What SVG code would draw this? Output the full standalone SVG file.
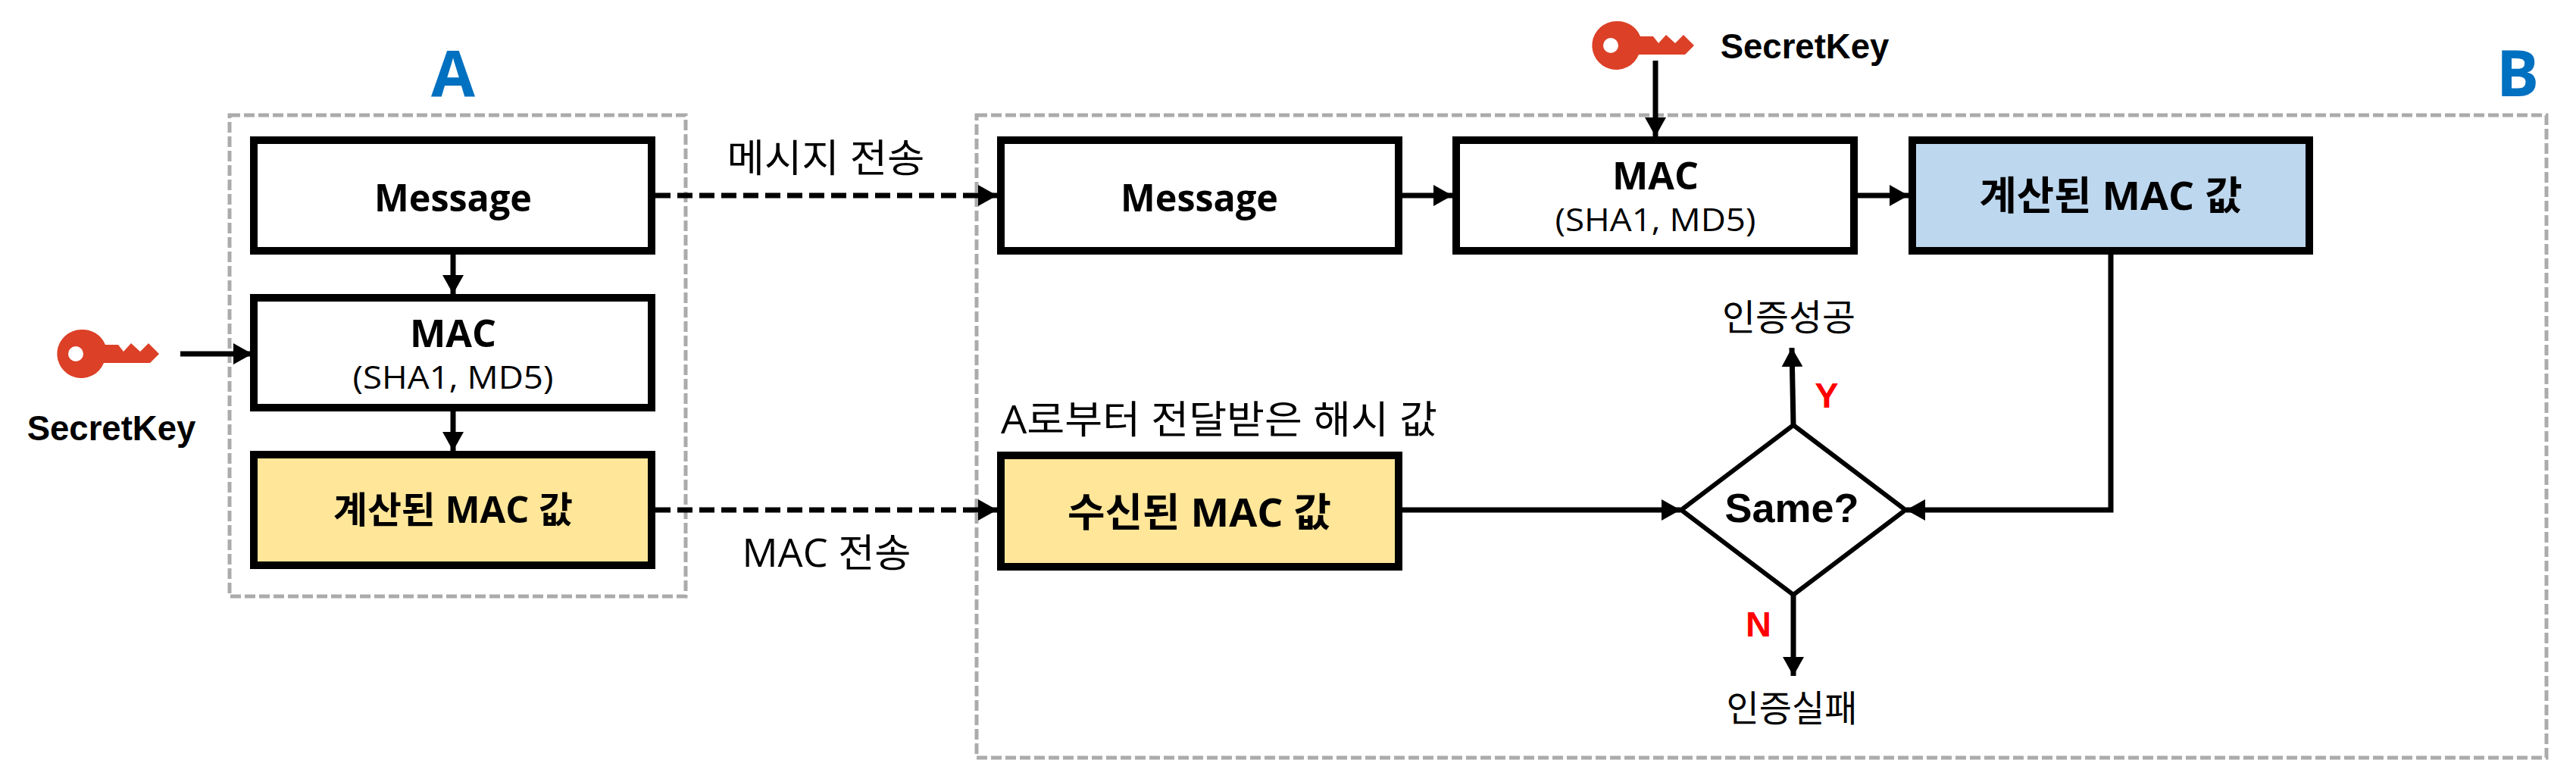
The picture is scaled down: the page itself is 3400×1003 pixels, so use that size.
<svg xmlns="http://www.w3.org/2000/svg" width="3400" height="1003" viewBox="0 0 3400 1003">
<style>
text{font-family:"Open Sans","Noto Sans CJK KR",sans-serif;text-anchor:middle;fill:#000}
.ar{font-family:"Liberation Sans",Arial,sans-serif;font-weight:700}
.t{font-size:50px;font-weight:700}
.k{font-size:52px;font-weight:700}
.s{font-size:42px}
.l{font-size:51px}
.h{font-size:84px;font-weight:700;fill:#0070C0}
.r{fill:#FF0000;font-size:47px}
.box{fill:#fff;stroke:#000;stroke-width:10}
.y{fill:#FFE699}
.bl{fill:#BDD7EE}
.grp{fill:none;stroke:#ABABAB;stroke-width:5;stroke-dasharray:14 5}
.c{fill:none;stroke:#000;stroke-width:7}
.d{stroke-dasharray:20 9}
.key{fill:#DC4027}
</style>
<defs>
<marker id="ah" markerUnits="userSpaceOnUse" markerWidth="26" markerHeight="28" refX="25" refY="14" orient="auto"><path d="M0 0L25 14L0 28Z" fill="#000"/></marker>
<g id="keyshape"><path class="key" fill-rule="evenodd" d="M107 435A32 32 0 0 1 139 455H156L163 464L173 453L185 464L196 453L210 467L198 479H137A32 32 0 1 1 107 435ZM100 457A10 10 0 1 0 100 477A10 10 0 1 0 100 457Z"/></g>
</defs>
<g id="group-a"><rect class="grp" x="303" y="152" width="602" height="635"/><text class="h" x="598" y="127">A</text></g>
<g id="group-b"><rect class="grp" x="1289" y="152" width="2072" height="848"/><text class="h" x="3323" y="127">B</text></g>
<g id="connectors">
<path class="c" d="M598 336V388" marker-end="url(#ah)"/>
<path class="c" d="M598 543V595" marker-end="url(#ah)"/>
<path class="c" d="M238 467H333" marker-end="url(#ah)"/>
<path class="c d" d="M865 258H1316" marker-end="url(#ah)"/>
<path class="c d" d="M865 673H1316" marker-end="url(#ah)"/>
<path class="c" d="M1851 258H1917" marker-end="url(#ah)"/>
<path class="c" d="M2452 258H2519" marker-end="url(#ah)"/>
<path class="c" d="M2185 80V180" marker-end="url(#ah)"/>
<path class="c" d="M1851 673H2218" marker-end="url(#ah)"/>
<path class="c" d="M2786 336V673H2516" marker-end="url(#ah)"/>
<path class="c" d="M2367 561L2365 459" marker-end="url(#ah)"/>
<path class="c" d="M2367 785V892" marker-end="url(#ah)"/>
</g>
<g id="a-message"><rect class="box" x="335" y="185" width="525" height="146"/><text class="t" x="598" y="279" textLength="208" lengthAdjust="spacingAndGlyphs">Message</text></g>
<g id="a-mac"><rect class="box" x="335" y="393" width="525" height="145"/><text class="t" x="598" y="458" textLength="114" lengthAdjust="spacingAndGlyphs">MAC</text><text class="s" x="598" y="513" textLength="265" lengthAdjust="spacingAndGlyphs">(SHA1, MD5)</text></g>
<g id="a-value"><rect class="box y" x="335" y="600" width="525" height="146"/><text class="k" style="font-size:48px" x="598" y="690" textLength="316" lengthAdjust="spacingAndGlyphs">계산된 MAC 값</text></g>
<g id="a-key"><use href="#keyshape"/><text class="ar" font-size="45.5" x="147" y="581">SecretKey</text></g>
<g id="b-message"><rect class="box" x="1321" y="185" width="525" height="146"/><text class="t" x="1583" y="279" textLength="208" lengthAdjust="spacingAndGlyphs">Message</text></g>
<g id="b-mac"><rect class="box" x="1922" y="185" width="525" height="146"/><text class="t" x="2185" y="250" textLength="114" lengthAdjust="spacingAndGlyphs">MAC</text><text class="s" x="2185" y="305" textLength="265" lengthAdjust="spacingAndGlyphs">(SHA1, MD5)</text></g>
<g id="b-computed"><rect class="box bl" x="2524" y="185" width="524" height="146"/><text class="k" x="2786" y="277" textLength="347" lengthAdjust="spacingAndGlyphs">계산된 MAC 값</text></g>
<g id="b-received"><rect class="box y" x="1321" y="601" width="525" height="147"/><text class="k" x="1583" y="695" textLength="348" lengthAdjust="spacingAndGlyphs">수신된 MAC 값</text></g>
<g id="b-key"><use href="#keyshape" x="2026" y="-407"/><text class="ar" font-size="45.5" x="2382" y="77">SecretKey</text></g>
<g id="decision"><path d="M2367 561L2515 673L2367 785L2219 673Z" fill="#fff" stroke="#000" stroke-width="6"/><text class="ar" font-size="54" x="2365" y="689">Same?</text></g>
<g id="labels">
<text class="l" x="1090" y="227" textLength="261" lengthAdjust="spacingAndGlyphs">메시지 전송</text>
<text class="l" x="1091" y="748" textLength="223" lengthAdjust="spacingAndGlyphs">MAC 전송</text>
<text class="l" x="1609" y="572" textLength="576" lengthAdjust="spacingAndGlyphs">A로부터 전달받은 해시 값</text>
<text class="l" style="font-size:48px" x="2361" y="436" textLength="176" lengthAdjust="spacingAndGlyphs">인증성공</text>
<text class="l" style="font-size:48px" x="2365" y="952" textLength="173" lengthAdjust="spacingAndGlyphs">인증실패</text>
<text class="ar r" x="2411" y="538">Y</text>
<text class="ar r" x="2321" y="840">N</text>
</g>
</svg>
